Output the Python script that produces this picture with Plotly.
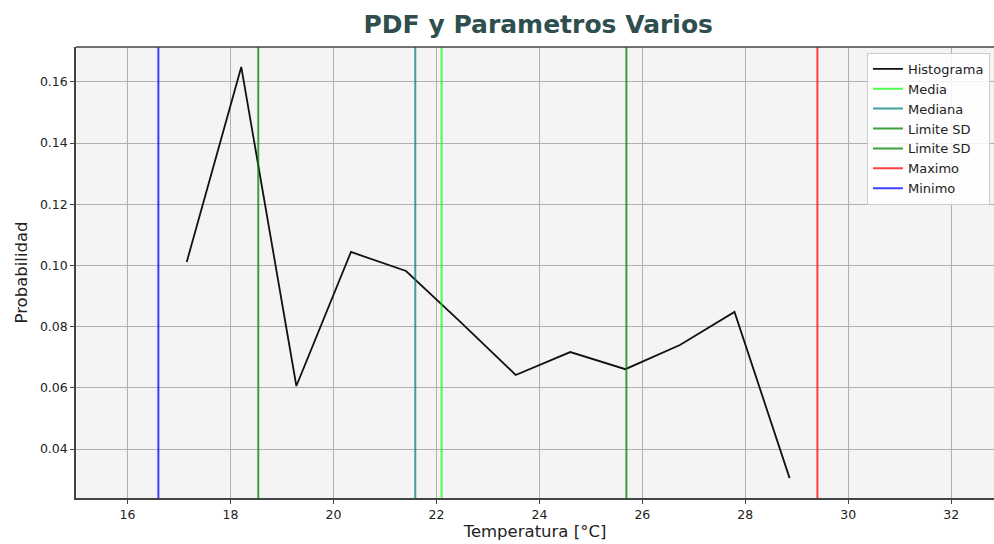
import plotly.graph_objects as go

# Data
temp_centers = [17.15, 18.21, 19.28, 20.34, 21.41, 22.47, 23.54, 24.60, 25.67, 26.73, 27.79, 28.86]
probabilidad = [0.1011, 0.1649, 0.0606, 0.1044, 0.0982, 0.0815, 0.0642, 0.0717, 0.0661, 0.0740, 0.0848, 0.0305]

line_names = ["Media", "Mediana", "Limite SD", "Limite SD", "Maximo", "Minimo"]
line_values = [22.10, 21.59, 18.54, 25.69, 29.40, 16.60]
line_colors = ["rgba(0,255,0,0.7)", "rgba(0,128,128,0.75)", "rgba(0,128,0,0.75)",
               "rgba(0,128,0,0.75)", "rgba(255,0,0,0.75)", "rgba(0,0,255,0.75)"]

x_ticks = [16, 18, 20, 22, 24, 26, 28, 30, 32]
y_ticks = [0.04, 0.06, 0.08, 0.10, 0.12, 0.14, 0.16]
x_range = [15.0, 32.83]
y_range = [0.0240, 0.1714]

fig = go.Figure()
fig.add_trace(go.Scatter(x=temp_centers, y=probabilidad, mode="lines", name="Histograma",
                         line=dict(color="#111111", width=1.8)))
for name, v, c in zip(line_names, line_values, line_colors):
    fig.add_trace(go.Scatter(x=[v, v], y=[y_range[0] - 1, y_range[1] + 1], mode="lines",
                             name=name, line=dict(color=c, width=2)))

fig.update_layout(
    width=994, height=544,
    margin=dict(l=76, r=0, t=47, b=46),
    paper_bgcolor="white",
    plot_bgcolor="#f4f4f4",
    font=dict(family="DejaVu Sans", size=12.5, color="#222222"),
    title=dict(text="<b>PDF y Parametros Varios</b>", x=0.5415, xanchor="center",
               y=1 - 24 / 544, yanchor="middle",
               font=dict(size=25, color="#2f4f4f", family="DejaVu Sans")),
    showlegend=True,
    legend=dict(x=0.9956, y=0.987, xanchor="right", yanchor="top",
                bgcolor="rgba(255,255,255,0.85)", bordercolor="#cccccc", borderwidth=1,
                font=dict(size=13), tracegroupgap=0, itemwidth=30),
)
fig.update_xaxes(range=x_range, tickvals=x_ticks, ticktext=[str(t) for t in x_ticks],
                 showgrid=True, gridcolor="#b0b0b0", gridwidth=1,
                 ticks="outside", ticklen=4, tickcolor="#444444",
                 showline=True, linecolor="#444444", linewidth=1.5, mirror=False, zeroline=False,
                 title=dict(text="Temperatura [°C]", font=dict(size=16.5), standoff=4))
fig.update_yaxes(range=y_range, tickvals=y_ticks, ticktext=["%.2f" % t for t in y_ticks],
                 showgrid=True, gridcolor="#b0b0b0", gridwidth=1,
                 ticks="outside", ticklen=4, tickcolor="#444444",
                 showline=True, linecolor="#444444", linewidth=1.5, mirror=False, zeroline=False,
                 title=dict(text="Probabilidad", font=dict(size=16.5), standoff=8))
fig.add_shape(type="line", xref="paper", yref="paper", x0=0, x1=1, y0=1, y1=1,
              line=dict(color="#444444", width=1.5))

fig.write_html("out.html", config={"displayModeBar": False},
               post_script="document.body.style.margin='0';document.body.style.overflow='hidden';")
